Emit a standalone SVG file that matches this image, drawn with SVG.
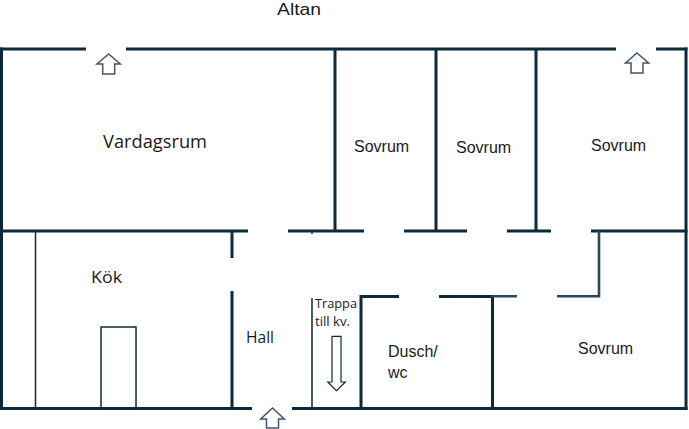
<svg xmlns="http://www.w3.org/2000/svg" width="689" height="429" viewBox="0 0 689 429">
<style>
.w{stroke:#0c2a3a;stroke-width:3;fill:none;stroke-linecap:butt}
.wl{stroke:#2a4858;stroke-width:2.6;fill:none}
.t{stroke:#0c2a3a;stroke-width:1.5;fill:none}
.ar{stroke:#44546A;stroke-width:1.5;fill:#fff;stroke-linejoin:miter}
.ad{stroke:#0c2a3a;stroke-width:1.2;fill:#fff}
.ap{font-family:"Open Sans","Liberation Sans",sans-serif;fill:#1a1a1a}
.ai{font-family:"Liberation Sans",Arial,sans-serif;fill:#1a1a1a;font-size:16px}
</style>
<rect width="689" height="429" fill="#fff"/>
<g id="walls">
<path class="w" d="M0 49H86M126 49H616M656 49H687.5"/>
<path class="w" d="M1.5 47.5V410M686 47.5V410"/>
<path class="w" d="M0 408.5H252M292 408.5H687.5"/>
<path class="w" d="M0 231H248M288 231H364M404 231H467M507 231H551M591 231H687.5"/>
<path class="w" d="M335 49V231M436 49V231M536 49V231"/>
<path class="w" d="M232 231V258M232 291V409"/>
<path class="w" d="M361 295V409M359.5 296.5H399M439 296.5H494M492.5 296V409"/>
<path class="wl" d="M599 231V296.3H557M491 296.3H517"/>
</g>
<g id="thin">
<path class="t" d="M35.5 231V409M312 298V409M312 231V234"/>
<rect class="t" x="101" y="327" width="35" height="82"/>
</g>
<g id="arrows">
<polygon class="ar" points="108.7,54 120.3,64 114.7,64 114.7,74 102.7,74 102.7,64 97,64"/>
<polygon class="ar" points="637,53 648.6,63 643,63 643,73 631,73 631,63 625.4,63"/>
<polygon class="ar" points="272.5,408 284.3,419 278.5,419 278.5,428 266.5,428 266.5,419 260.7,419"/>
<polygon class="ad" points="332,336.3 341,336.3 341,382 345.3,382 336.5,390.7 327.7,382 332,382"/>
</g>
<g id="labels">
<text id="altan" x="277" y="14.5" font-family="Liberation Sans, Arial, sans-serif" fill="#1a1a1a" font-size="16" textLength="44" lengthAdjust="spacingAndGlyphs">Altan</text>
<text id="vardagsrum" class="ap" x="103" y="148.3" font-size="18" textLength="104" lengthAdjust="spacingAndGlyphs">Vardagsrum</text>
<text id="kok" class="ap" x="91" y="283" font-size="17" textLength="31" lengthAdjust="spacingAndGlyphs">Kök</text>
<text id="hall" class="ap" x="246" y="342.7" font-size="16" textLength="28" lengthAdjust="spacingAndGlyphs">Hall</text>
<text id="trappa" class="ap" font-size="12.5"><tspan x="315" y="307.5" textLength="42" lengthAdjust="spacingAndGlyphs">Trappa</tspan><tspan x="315" y="326" textLength="35" lengthAdjust="spacingAndGlyphs">till kv.</tspan></text>
<text class="ai" x="354" y="152">Sovrum</text>
<text class="ai" x="456" y="152.7">Sovrum</text>
<text class="ai" x="591" y="150.7">Sovrum</text>
<text class="ai" x="578" y="354.3">Sovrum</text>
<text class="ai" x="388" y="356.7">Dusch/</text>
<text class="ai" x="388" y="378">wc</text>
</g>
</svg>
